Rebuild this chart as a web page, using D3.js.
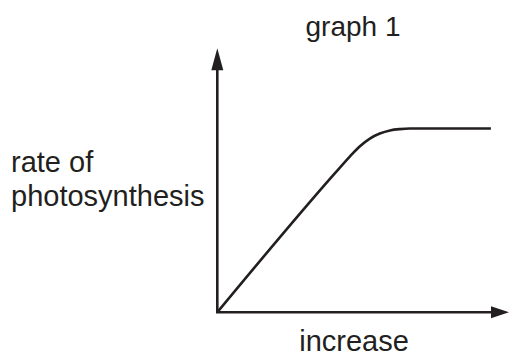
<!DOCTYPE html>
<html>
<head>
<meta charset="utf-8">
<script src="https://cdn.jsdelivr.net/npm/d3@7"></script>
<style>
  html, body { margin: 0; padding: 0; background: #fff; }
  svg { display: block; }
  text { font-family: "Liberation Sans", Arial, Helvetica, sans-serif; fill: #231f20; }
</style>
</head>
<body>
<svg id="chart" width="509" height="356"></svg>
<script>
// ---- data ----
const title = "graph 1";
const xAxisLabel = "increase";
const yAxisLabelLines = ["rate of", "photosynthesis"];
const curveX = [0, 40.35, 45.5, 48.9, 52.3, 55.7, 59.2, 62.6, 66.0, 93.8];
const curveY = [0, 52.7, 59.1, 62.9, 65.8, 67.7, 68.9, 69.4, 69.6, 69.6];

// ---- layout ----
const ink = "#231f20";
const svg = d3.select("#chart");
const x = d3.scaleLinear().domain([0, 100]).range([217.3, 509]);
const y = d3.scaleLinear().domain([0, 100]).range([312.3, 48.3]);

const arrowLen = 18, arrowHalf = 6;

// y axis
svg.append("line")
  .attr("x1", x(0)).attr("y1", y(0))
  .attr("x2", x(0)).attr("y2", y(100) + arrowLen)
  .attr("stroke", ink).attr("stroke-width", 2.6);
svg.append("path")
  .attr("d", `M${x(0)},${y(100)} L${x(0) - arrowHalf},${y(100) + arrowLen + 4} L${x(0) + arrowHalf},${y(100) + arrowLen + 4} Z`)
  .attr("fill", ink);

// x axis
svg.append("line")
  .attr("x1", x(0) - 1.3).attr("y1", y(0))
  .attr("x2", x(100) - arrowLen).attr("y2", y(0))
  .attr("stroke", ink).attr("stroke-width", 2.6);
svg.append("path")
  .attr("d", `M${x(100)},${y(0)} L${x(100) - arrowLen},${y(0) - arrowHalf} L${x(100) - arrowLen},${y(0) + arrowHalf} Z`)
  .attr("fill", ink);

// curve
const pts = curveX.map((v, i) => [v, curveY[i]]);
const line = d3.line().x(d => x(d[0])).y(d => y(d[1])).curve(d3.curveMonotoneX);
svg.append("path")
  .datum(pts)
  .attr("d", line)
  .attr("fill", "none")
  .attr("stroke", ink)
  .attr("stroke-width", 2.6)
  .attr("stroke-linejoin", "round");

// texts
svg.append("text")
  .attr("x", 353).attr("y", 36)
  .attr("text-anchor", "middle")
  .attr("font-size", 28)
  .text(title);

svg.append("text")
  .attr("x", 354).attr("y", 351)
  .attr("text-anchor", "middle")
  .attr("font-size", 29)
  .text(xAxisLabel);

svg.append("text")
  .attr("x", 11).attr("font-size", 29)
  .selectAll("tspan")
  .data(yAxisLabelLines)
  .join("tspan")
  .attr("x", 11)
  .attr("y", (d, i) => 172 + i * 33.5)
  .text(d => d);
</script>
</body>
</html>
